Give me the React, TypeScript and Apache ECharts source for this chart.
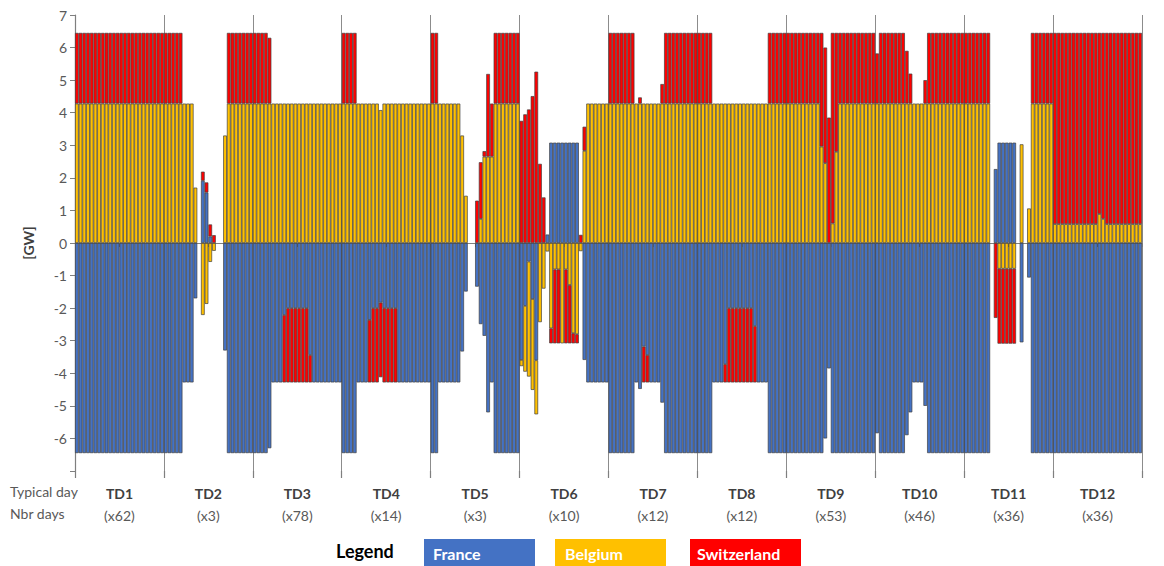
import React, { useEffect, useRef } from "react";
import * as echarts from "echarts";

const typicalDays = ["TD1", "TD2", "TD3", "TD4", "TD5", "TD6", "TD7", "TD8", "TD9", "TD10", "TD11", "TD12"];
const nbrDays = ["x62", "x3", "x78", "x14", "x3", "x10", "x12", "x12", "x53", "x46", "x36", "x36"];
const hours = typicalDays.flatMap((td) => Array.from({ length: 24 }, (_, h) => `${td}-${h + 1}`));

// France exchange [GW], one value per hour (288 hours)
const france = [
  -6.45, -6.45, -6.45, -6.45, -6.45, -6.45, -6.45, -6.45, -6.45, -6.45, -6.45, -6.45, -6.45, -6.45, -6.45, -6.45, -6.45, -6.45, -6.45, -6.45, -6.45, -6.45, -6.45, -6.45,
  -6.45, -6.45, -6.45, -6.45, -6.45, -4.28, -4.28, -4.28, -1.7, null, 1.91, 1.55, 0.2, null, null, null, -3.3, -6.45, -6.45, -6.45, -6.45, -6.45, -6.45, -6.45,
  -6.45, -6.45, -6.45, -6.45, -6.3, -4.28, -4.28, -4.28, -2.21, -2.0, -2.0, -2.0, -2.0, -2.0, -2.0, -3.44, -4.28, -4.28, -4.28, -4.28, -4.28, -4.28, -4.28, -4.28,
  -6.45, -6.45, -6.45, -6.45, -4.28, -4.28, -4.28, -2.36, -2.0, -2.0, -1.83, -2.0, -2.0, -2.0, -2.0, -4.28, -4.28, -4.28, -4.28, -4.28, -4.28, -4.28, -4.28, -4.28,
  -6.45, -6.45, -4.28, -4.28, -4.28, -4.28, -4.28, -4.28, -3.33, -1.49, null, null, -1.34, -2.49, -2.85, -5.2, -4.28, -6.45, -6.45, -6.45, -6.45, -6.45, -6.45, -6.45,
  -3.59, -1.93, -0.57, -1.72, -3.6, null, null, 0.26, 3.08, 3.08, 3.08, 3.08, 3.08, 3.08, 3.08, 3.08, null, -3.59, -4.28, -4.28, -4.28, -4.28, -4.28, -4.28,
  -6.45, -6.45, -6.45, -6.45, -6.45, -6.45, -6.45, -4.28, -4.48, -3.18, -3.44, -4.28, -4.28, -4.28, -4.9, -6.45, -6.45, -6.45, -6.45, -6.45, -6.45, -6.45, -6.45, -6.45,
  -6.45, -6.45, -6.45, -6.45, -4.28, -4.28, -4.28, -3.72, -2.0, -2.0, -2.0, -2.0, -2.0, -2.0, -2.0, -2.55, -4.28, -4.28, -4.28, -6.45, -6.45, -6.45, -6.45, -6.45,
  -6.45, -6.45, -6.45, -6.45, -6.45, -6.45, -6.45, -6.45, -6.45, -6.45, -6.0, -3.85, -6.45, -6.45, -6.45, -6.45, -6.45, -6.45, -6.45, -6.45, -6.45, -6.45, -6.45, -6.45,
  -5.84, -6.45, -6.45, -6.45, -6.45, -6.45, -6.45, -6.45, -5.9, -5.2, -4.28, -4.28, -4.28, -5.0, -6.45, -6.45, -6.45, -6.45, -6.45, -6.45, -6.45, -6.45, -6.45, -6.45,
  -6.45, -6.45, -6.45, -6.45, -6.45, -6.45, -6.45, null, 2.27, 3.08, 3.08, 3.08, 3.08, 3.08, null, -3.05, null, -1.06, -6.45, -6.45, -6.45, -6.45, -6.45, -6.45,
  -6.45, -6.45, -6.45, -6.45, -6.45, -6.45, -6.45, -6.45, -6.45, -6.45, -6.45, -6.45, -6.45, -6.45, -6.45, -6.45, -6.45, -6.45, -6.45, -6.45, -6.45, -6.45, -6.45, -6.45,
];

// Belgium exchange [GW]
const belgium = [
  4.28, 4.28, 4.28, 4.28, 4.28, 4.28, 4.28, 4.28, 4.28, 4.28, 4.28, 4.28, 4.28, 4.28, 4.28, 4.28, 4.28, 4.28, 4.28, 4.28, 4.28, 4.28, 4.28, 4.28,
  4.28, 4.28, 4.28, 4.28, 4.28, 4.28, 4.28, 4.28, 1.7, null, -2.21, -1.87, -0.58, -0.24, null, null, 3.3, 4.28, 4.28, 4.28, 4.28, 4.28, 4.28, 4.28,
  4.28, 4.28, 4.28, 4.28, 4.28, 4.28, 4.28, 4.28, 4.28, 4.28, 4.28, 4.28, 4.28, 4.28, 4.28, 4.28, 4.28, 4.28, 4.28, 4.28, 4.28, 4.28, 4.28, 4.28,
  4.28, 4.28, 4.28, 4.28, 4.28, 4.28, 4.28, 4.28, 4.28, 4.28, 4.08, 4.28, 4.28, 4.28, 4.28, 4.28, 4.28, 4.28, 4.28, 4.28, 4.28, 4.28, 4.28, 4.28,
  4.28, 4.28, 4.28, 4.28, 4.28, 4.28, 4.28, 4.28, 3.3, 1.45, null, null, null, 0.74, 2.65, 2.65, 2.65, 4.28, 4.28, 4.28, 4.28, 4.28, 4.28, 4.28,
  -0.19, -2.02, -3.53, -2.79, -1.66, -2.43, -1.4, -0.26, -2.62, -0.81, -0.81, -3.08, -0.81, -1.29, -2.77, -2.8, -0.25, 2.83, 4.28, 4.28, 4.28, 4.28, 4.28, 4.28,
  4.28, 4.28, 4.28, 4.28, 4.28, 4.28, 4.28, 4.28, 4.28, 4.28, 4.28, 4.28, 4.28, 4.28, 4.28, 4.28, 4.28, 4.28, 4.28, 4.28, 4.28, 4.28, 4.28, 4.28,
  4.28, 4.28, 4.28, 4.28, 4.28, 4.28, 4.28, 4.28, 4.28, 4.28, 4.28, 4.28, 4.28, 4.28, 4.28, 4.28, 4.28, 4.28, 4.28, 4.28, 4.28, 4.28, 4.28, 4.28,
  4.28, 4.28, 4.28, 4.28, 4.28, 4.28, 4.28, 4.28, 4.28, 2.96, 2.45, null, 0.6, 2.8, 4.28, 4.28, 4.28, 4.28, 4.28, 4.28, 4.28, 4.28, 4.28, 4.28,
  4.28, 4.28, 4.28, 4.28, 4.28, 4.28, 4.28, 4.28, 4.28, 4.28, 4.28, 4.28, 4.28, 4.28, 4.28, 4.28, 4.28, 4.28, 4.28, 4.28, 4.28, 4.28, 4.28, 4.28,
  4.28, 4.28, 4.28, 4.28, 4.28, 4.28, 4.28, null, null, -0.79, -0.79, -0.79, -0.79, -0.79, null, 3.03, null, 1.06, 4.28, 4.28, 4.28, 4.28, 4.28, 4.28,
  0.58, 0.58, 0.58, 0.58, 0.58, 0.58, 0.58, 0.58, 0.58, 0.58, 0.58, 0.58, 0.89, 0.74, 0.58, 0.58, 0.58, 0.58, 0.58, 0.58, 0.58, 0.58, 0.58, 0.58,
];

// Switzerland exchange [GW]
const switzerland = [
  2.17, 2.17, 2.17, 2.17, 2.17, 2.17, 2.17, 2.17, 2.17, 2.17, 2.17, 2.17, 2.17, 2.17, 2.17, 2.17, 2.17, 2.17, 2.17, 2.17, 2.17, 2.17, 2.17, 2.17,
  2.17, 2.17, 2.17, 2.17, 2.17, null, null, null, null, null, 0.28, 0.31, 0.37, 0.24, null, null, null, 2.17, 2.17, 2.17, 2.17, 2.17, 2.17, 2.17,
  2.17, 2.17, 2.17, 2.17, 2.02, null, null, null, -2.07, -2.28, -2.28, -2.28, -2.28, -2.28, -2.28, -0.84, null, null, null, null, null, null, null, null,
  2.17, 2.17, 2.17, 2.17, null, null, null, -1.92, -2.28, -2.28, -2.29, -2.28, -2.28, -2.28, -2.28, null, null, null, null, null, null, null, null, null,
  2.17, 2.17, null, null, null, null, null, null, null, null, null, null, 1.3, 1.74, 0.17, 2.54, 1.63, 2.17, 2.17, 2.17, 2.17, 2.17, 2.17, 2.17,
  3.75, 3.95, 4.1, 4.51, 5.26, 2.43, 1.4, null, -0.46, -2.27, -2.27, null, -2.27, -1.79, -0.31, -0.28, 0.25, 0.74, null, null, null, null, null, null,
  2.17, 2.17, 2.17, 2.17, 2.17, 2.17, 2.17, null, 0.19, -1.1, -0.84, null, null, null, 0.6, 2.17, 2.17, 2.17, 2.17, 2.17, 2.17, 2.17, 2.17, 2.17,
  2.17, 2.17, 2.17, 2.17, null, null, null, -0.56, -2.28, -2.28, -2.28, -2.28, -2.28, -2.28, -2.28, -1.73, null, null, null, 2.17, 2.17, 2.17, 2.17, 2.17,
  2.17, 2.17, 2.17, 2.17, 2.17, 2.17, 2.17, 2.17, 2.17, 3.49, 3.55, 3.85, 5.85, 3.65, 2.17, 2.17, 2.17, 2.17, 2.17, 2.17, 2.17, 2.17, 2.17, 2.17,
  1.54, 2.17, 2.17, 2.17, 2.17, 2.17, 2.17, 2.17, 1.62, 0.92, null, null, null, 0.72, 2.17, 2.17, 2.17, 2.17, 2.17, 2.17, 2.17, 2.17, 2.17, 2.17,
  2.17, 2.17, 2.17, 2.17, 2.17, 2.17, 2.17, null, -2.3, -2.3, -2.3, -2.3, -2.3, -2.3, null, null, null, null, 2.17, 2.17, 2.17, 2.17, 2.17, 2.17,
  5.87, 5.87, 5.87, 5.87, 5.87, 5.87, 5.87, 5.87, 5.87, 5.87, 5.87, 5.87, 5.56, 5.71, 5.87, 5.87, 5.87, 5.87, 5.87, 5.87, 5.87, 5.87, 5.87, 5.87,
];

const FONT = "Lato, 'Open Sans', sans-serif";
const BLUE = "#4472C4";
const YELLOW = "#FFC000";
const RED = "#FF0000";

export default function App() {
  const ref = useRef<HTMLDivElement>(null);

  useEffect(() => {
    document.body.style.margin = "0";
    if (!ref.current) return;
    const chart = echarts.init(ref.current, undefined, { renderer: "svg" });
    const barStyle = (color: string) => ({
      color,
      borderColor: "#404040",
      borderWidth: 0.7,
    });
    const mk = (name: string, data: (number | null)[], color: string) => ({
      name,
      type: "bar",
      stack: "exchange",
      data,
      xAxisIndex: 0,
      barCategoryGap: "0%",
      itemStyle: barStyle(color),
      emphasis: { disabled: true },
    });
    chart.setOption({
      animation: false,
      textStyle: { fontFamily: FONT },
      grid: { left: 75, right: 22, top: 15, bottom: 95, containLabel: false },
      xAxis: [
        {
          type: "category",
          data: hours,
          position: "bottom",
          axisLine: { show: true, lineStyle: { color: "#7f7f7f", width: 1.2 } },
          axisTick: { show: true, interval: 11, length: 4, lineStyle: { color: "#7f7f7f" } },
          axisLabel: { show: false },
          splitLine: { show: false },
        },
        {
          type: "category",
          data: typicalDays,
          position: "bottom",
          axisLine: { show: false },
          axisTick: { show: true, length: 7, lineStyle: { color: "#7f7f7f", width: 1.2 } },
          splitLine: { show: true, lineStyle: { color: "#8c8c8c", width: 1 } },
          axisLabel: {
            margin: 11,
            formatter: (v: string, i: number) => `{a|${v}}\n{b|(${nbrDays[i]})}`,
            rich: {
              a: { fontFamily: FONT, fontSize: 14, fontWeight: "bold", color: "#404040", lineHeight: 22 },
              b: { fontFamily: FONT, fontSize: 14, color: "#595959", lineHeight: 22 },
            },
          },
        },
      ],
      yAxis: {
        type: "value",
        min: -7,
        max: 7,
        interval: 1,
        name: "[GW]",
        nameLocation: "middle",
        nameGap: 40,
        nameRotate: 90,
        nameTextStyle: { fontFamily: FONT, fontSize: 14, fontWeight: "bold", color: "#404040" },
        axisLine: { show: true, lineStyle: { color: "#7f7f7f", width: 1.2 } },
        axisTick: { show: true, length: 5, lineStyle: { color: "#7f7f7f" } },
        axisLabel: {
          fontFamily: FONT,
          fontSize: 14,
          color: "#595959",
          margin: 8,
          formatter: (v: number) => (v === -7 ? "" : String(v)),
        },
        splitLine: { show: false },
      },
      series: [mk("France", france, BLUE), mk("Belgium", belgium, YELLOW), mk("Switzerland", switzerland, RED)],
      graphic: [
        { type: "text", left: 10, top: 484, style: { text: "Typical day", fontFamily: FONT, fontSize: 14, fill: "#595959" } },
        { type: "text", left: 10, top: 506, style: { text: "Nbr days", fontFamily: FONT, fontSize: 14, fill: "#595959" } },
        { type: "text", left: 336, top: 542, style: { text: "Legend", fontFamily: FONT, fontSize: 18, fontWeight: "bold", fill: "#000" } },
        { type: "rect", shape: { x: 424, y: 539, width: 111, height: 30 }, style: { fill: BLUE } },
        { type: "text", left: 433, top: 545, style: { text: "France", fontFamily: FONT, fontSize: 16, fontWeight: "bold", fill: "#fff" } },
        { type: "rect", shape: { x: 555, y: 539, width: 111, height: 30 }, style: { fill: YELLOW } },
        { type: "text", left: 565, top: 545, style: { text: "Belgium", fontFamily: FONT, fontSize: 16, fontWeight: "bold", fill: "#fff" } },
        { type: "rect", shape: { x: 690, y: 539, width: 111, height: 30 }, style: { fill: RED } },
        { type: "text", left: 697, top: 545, style: { text: "Switzerland", fontFamily: FONT, fontSize: 16, fontWeight: "bold", fill: "#fff" } },
      ],
    });
    return () => chart.dispose();
  }, []);

  return <div ref={ref} style={{ width: 1164, height: 566 }} />;
}
